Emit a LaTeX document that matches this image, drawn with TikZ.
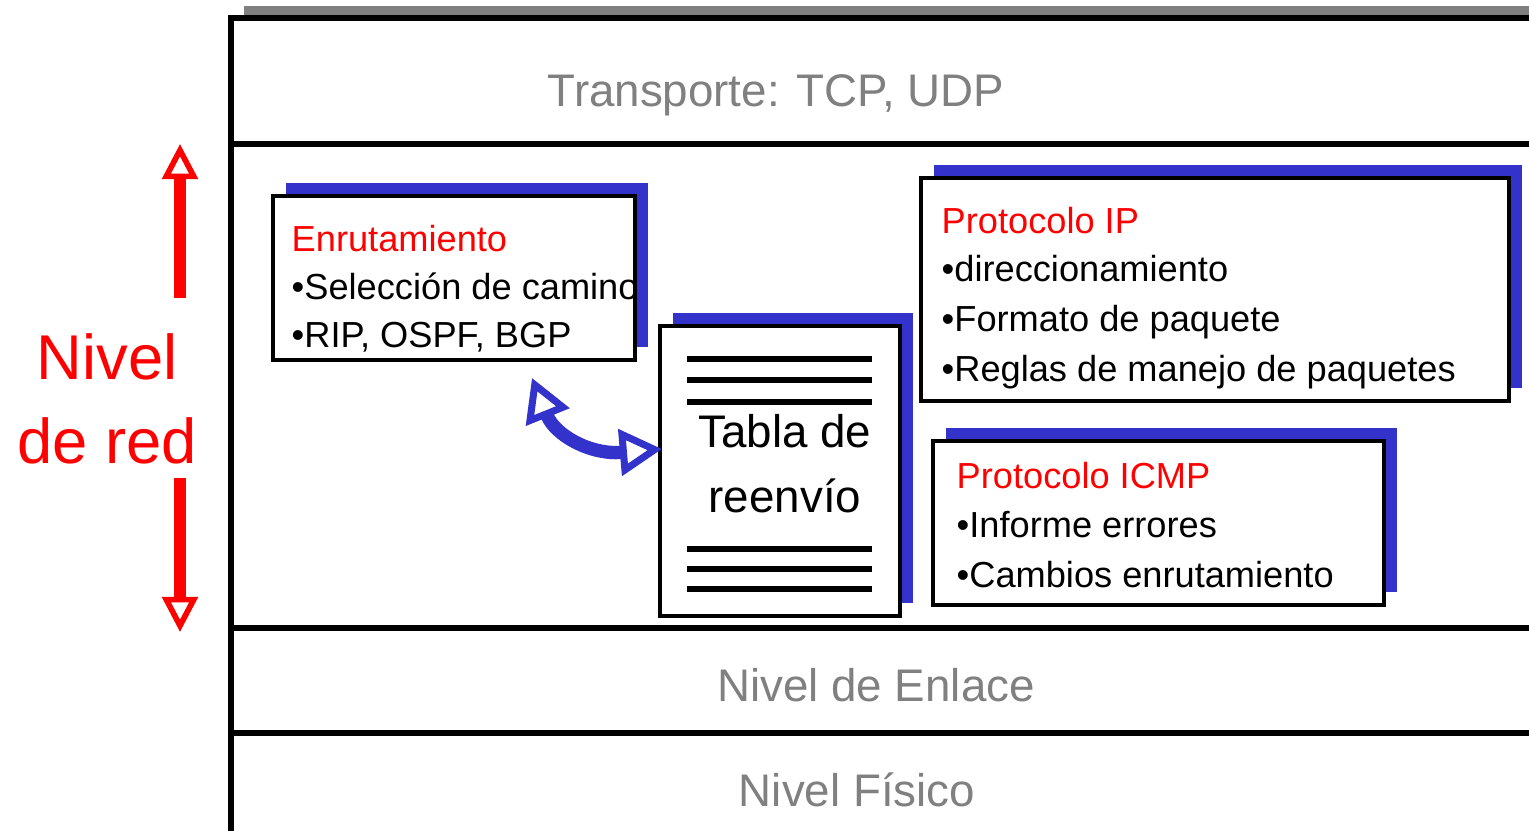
\documentclass[tikz,border=0pt]{standalone}
\usepackage{fontspec}
\setmainfont{Liberation Sans}
\usetikzlibrary{arrows.meta,fit}
\definecolor{shadowBlue}{HTML}{3333CC}
\definecolor{layerGray}{HTML}{808080}
\newcommand{\shadowShift}{13}
\newcommand{\shadowBox}[5]{%%
  %% The blue shadow, shifted up and to the right.
  \fill[shadowStyle] (#2+\shadowShift,#3-\shadowShift) rectangle (#4+\shadowShift,#5-\shadowShift);
  %% The white box on top of it.
  \node[boxStyle,fit={(#2,#3) (#4,#5)}] (#1) {};
}
\newcommand{\layerLines}{%%
  %% The frame of the stack.
  \fill[layerGray] (244,6) rectangle (\xright,\ytop);
  \draw[frameStyle] (\xleft,\ybottom) -- (\xleft,\ytop) -- (\xright,\ytop);
  %% The borders between the levels.
  \draw[frameStyle] (\xleft,144) -- (\xright,144);
  \draw[frameStyle] (\xleft,628) -- (\xright,628);
  \draw[frameStyle] (\xleft-3,733) -- (\xright,733);
}
\newcommand{\tableRules}[1]{%%
  \foreach \yrule in {#1} {
    \draw[ruleStyle] (687,\yrule) -- (872,\yrule);
  }
}

\begin{document}
\begin{tikzpicture}[x=0.01cm,y=-0.01cm,%%
  frameStyle/.style={-,line width=1.5pt},%%
  shadowStyle/.style={fill=shadowBlue},%%
  boxStyle/.style={draw,fill=white,line width=1.2pt,inner sep=0pt},%%
  ruleStyle/.style={-,line width=1.8pt},%%
  layerText/.style={anchor=base,inner sep=0pt,text=layerGray,font=\fontsize{13}{15}\selectfont},%%
  titleText/.style={anchor=base west,inner sep=0pt,text=red,font=\fontsize{10.3}{12}\selectfont},%%
  itemText/.style={anchor=base west,inner sep=0pt,font=\fontsize{10.3}{12}\selectfont},%%
  redArrow/.style={draw=red,line width=3.2pt,-{Triangle[open,length=10pt,width=10pt,line width=1.6pt]}},%%
  blueArrow/.style={draw=shadowBlue,line width=3.8pt,%%
    {Triangle[open,length=12pt,width=13pt,line width=2pt]}-{Triangle[open,length=12pt,width=13pt,line width=2pt]}}
]
%%
%%
\pgfmathsetmacro{\xleft}{231}
\pgfmathsetmacro{\xright}{1529}
\pgfmathsetmacro{\ytop}{18}
\pgfmathsetmacro{\ybottom}{831}
\useasboundingbox (0,0) rectangle (\xright,\ybottom);
\coordinate (upStart) at (180,298);
\coordinate (upEnd) at (180,144);
\coordinate (downStart) at (180,478);
\coordinate (downEnd) at (180,632);
\coordinate (routeEnd) at (532,378);
\coordinate (tableEnd) at (662,449);
%%
%%
%% The levels of the stack.
\layerLines
\node[layerText] (transporte) at (776,107) {Transporte: TCP, UDP};
\node[layerText] (enlace) at (876,702) {Nivel de Enlace};
\node[layerText] (fisico) at (857,807) {Nivel Físico};
%% The network level on the left.
\node[align=center,text=red,font=\fontsize{18}{24}\selectfont] (nivelRed) at (107,399) {Nivel\\de red};
\draw[redArrow] (upStart) -- (upEnd);
\draw[redArrow] (downStart) -- (downEnd);
%% Routing.
\shadowBox{ruteo}{273}{196}{635}{360}
\node[titleText] (ruteoTitle) at (291,252) {Enrutamiento};
\node[itemText] (ruteoA) at (291,300) {•Selección de camino};
\node[itemText] (ruteoB) at (291,348) {•RIP, OSPF, BGP};
%% The forwarding table.
\shadowBox{tabla}{660}{326}{900}{616}
\tableRules{359,380,402}
\tableRules{549,569,589}
\node[align=center,font=\fontsize{13}{18.5}\selectfont] (tablaText) at (785,464) {Tabla de\\reenvío};
\draw[blueArrow] (routeEnd) .. controls (555,435) and (590,455) .. (tableEnd);
%% IP protocol.
\shadowBox{ip}{921}{178}{1509}{401}
\node[titleText] (ipTitle) at (941,234) {Protocolo IP};
\node[itemText] (ipA) at (941,282) {•direccionamiento};
\node[itemText] (ipB) at (941,332) {•Formato de paquete};
\node[itemText] (ipC) at (941,382) {•Reglas de manejo de paquetes};
%% ICMP protocol.
\shadowBox{icmp}{933}{441}{1384}{605}
\node[titleText] (icmpTitle) at (956,489) {Protocolo ICMP};
\node[itemText] (icmpA) at (956,538) {•Informe errores};
\node[itemText] (icmpB) at (956,588) {•Cambios enrutamiento};
\end{tikzpicture}
\end{document}
